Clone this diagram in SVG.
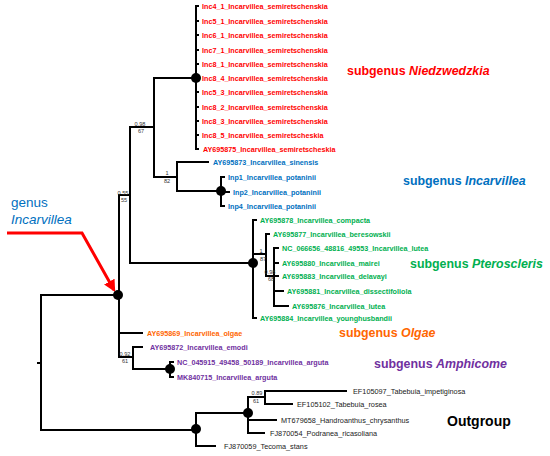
<svg xmlns="http://www.w3.org/2000/svg" width="550" height="456" viewBox="0 0 550 456">
<style>
.br{fill:none;stroke:#000;stroke-width:2}
.nd{fill:#000}
.lf{font-family:"Liberation Sans",Arial,sans-serif;font-size:7.2px;font-weight:bold}
.og{font-family:"Liberation Sans",Arial,sans-serif;font-size:7.3px;fill:#1a1a1a}
.sp{font-family:"Liberation Sans",Arial,sans-serif;font-size:5.6px;fill:#333;text-anchor:middle}
.sg{font-family:"Liberation Sans",Arial,sans-serif;font-size:12.4px;font-weight:bold}
.it{font-style:italic}
.r{fill:#ff0000}.b{fill:#0070c0}.g{fill:#00b050}.o{fill:#ff6600}.p{fill:#7030a0}
</style>
<defs>
<marker id="ah" viewBox="0 0 10 10" refX="8" refY="5" markerWidth="4" markerHeight="4" orient="auto" markerUnits="strokeWidth">
<path d="M0,0L10,5L0,10z" fill="#ff0000"/>
</marker>
</defs>
<rect width="550" height="456" fill="#fff"/>
<g id="connectors">
<path class="br" d="M117,295H41V430H196M37,363H41"/>
<path class="br" d="M130,195H119V357H133M119,333H143"/>
<path class="br" d="M154,127H130V263H253"/>
<path class="br" d="M196,78H154V177H177"/>
<path class="br" d="M199,6H196V149H199M196,21H199M196,35H199M196,50H199M196,64H199M196,92H199M196,107H199M196,121H199M196,135H199"/>
<path class="br" d="M209,162H177V191H221"/>
<path class="br" d="M225,177H221V206H225M221,192H230"/>
<path class="br" d="M257,220H253V318H257M253,254H266"/>
<path class="br" d="M270,234H266V276H274"/>
<path class="br" d="M279,248H274V306H289M274,263H279M274,276H279M274,291H284"/>
<path class="br" d="M143,347H133V369H170"/>
<path class="br" d="M174,362H170V377H174"/>
<path class="br" d="M248,413H196V446H216"/>
<path class="br" d="M265,397H248V433H265M248,420H277"/>
<path class="br" d="M347,391H265V404H293"/>
<path d="M7,233H82L114,290" fill="none" stroke="#ff0000" stroke-width="3" marker-end="url(#ah)"/>
</g>
<g id="internal-nodes">
<circle id="n-genus" class="nd" cx="118" cy="295" r="5"/>
<circle id="n-niedz" class="nd" cx="196" cy="78" r="5"/>
<circle id="n-potaninii" class="nd" cx="221" cy="191" r="5"/>
<circle id="n-ptero" class="nd" cx="253" cy="263" r="5"/>
<circle id="n-arguta" class="nd" cx="170" cy="369" r="5"/>
<circle id="n-out1" class="nd" cx="196" cy="429" r="5"/>
<circle id="n-out2" class="nd" cx="248" cy="413" r="5"/>
</g>
<g id="support">
<text class="sp" x="140" y="126">0.98</text><text class="sp" x="141" y="133">67</text>
<text class="sp" x="167" y="175">1</text><text class="sp" x="167" y="183">82</text>
<text class="sp" x="123" y="195">0.55</text><text class="sp" x="124" y="202">55</text>
<text class="sp" x="261" y="253">1</text><text class="sp" x="263" y="261">87</text>
<text class="sp" x="270" y="274">0.98</text><text class="sp" x="271" y="281">68</text>
<text class="sp" x="125" y="356">0.92</text><text class="sp" x="125" y="363">61</text>
<text class="sp" x="257" y="395">0.89</text><text class="sp" x="256" y="403">61</text>
</g>
<g id="leaves">
<g id="l-inc4"><text class="lf r" x="202" y="8.6">Inc4_1_Incarvillea_semiretschenskia</text></g>
<g id="l-inc5"><text class="lf r" x="202" y="23.6">Inc5_1_Incarvillea_semiretschenskia</text></g>
<g id="l-inc6"><text class="lf r" x="202" y="37.6">Inc6_1_Incarvillea_semiretschenskia</text></g>
<g id="l-inc7"><text class="lf r" x="202" y="52.6">Inc7_1_Incarvillea_semiretschenskia</text></g>
<g id="l-inc81"><text class="lf r" x="202" y="66.6">Inc8_1_Incarvillea_semiretschenskia</text></g>
<g id="l-inc84"><text class="lf r" x="202" y="80.6">Inc8_4_Incarvillea_semiretschenskia</text></g>
<g id="l-inc53"><text class="lf r" x="202" y="94.6">Inc5_3_Incarvillea_semiretschenskia</text></g>
<g id="l-inc82"><text class="lf r" x="202" y="109.6">Inc8_2_Incarvillea_semiretschenskia</text></g>
<g id="l-inc83"><text class="lf r" x="202" y="123.6">Inc8_3_Incarvillea_semiretschenskia</text></g>
<g id="l-inc85"><text class="lf r" x="202" y="137.6">Inc8_5_Incarvillea_semiretscheskia</text></g>
<g id="l-ay875"><text class="lf r" x="203" y="151.6">AY695875_Incarvillea_semiretscheskia</text></g>
<g id="l-ay873"><text class="lf b" x="213" y="164.6">AY695873_Incarvillea_sinensis</text></g>
<g id="l-inp1"><text class="lf b" x="228" y="179.6">Inp1_Incarvillea_potaninii</text></g>
<g id="l-inp2"><text class="lf b" x="233" y="194.6">Inp2_Incarvillea_potaninii</text></g>
<g id="l-inp4"><text class="lf b" x="228" y="208.6">Inp4_Incarvillea_potaninii</text></g>
<g id="l-ay878"><text class="lf g" x="260" y="222.6">AY695878_Incarvillea_compacta</text></g>
<g id="l-ay877"><text class="lf g" x="273" y="236.6">AY695877_Incarvillea_beresowskii</text></g>
<g id="l-nc066"><text class="lf g" x="282" y="250.6">NC_066656_48816_49553_Incarvillea_lutea</text></g>
<g id="l-ay880"><text class="lf g" x="282" y="265.6">AY695880_Incarvillea_mairei</text></g>
<g id="l-ay883"><text class="lf g" x="282" y="278.6">AY695883_Incarvillea_delavayi</text></g>
<g id="l-ay881"><text class="lf g" x="287" y="293.6">AY695881_Incarvillea_dissectifoliola</text></g>
<g id="l-ay876"><text class="lf g" x="292" y="308.6">AY695876_Incarvillea_lutea</text></g>
<g id="l-ay884"><text class="lf g" x="260" y="320.6">AY695884_Incarvillea_younghusbandii</text></g>
<g id="l-ay869"><text class="lf o" x="147" y="335.6">AY695869_Incarvillea_olgae</text></g>
<g id="l-ay872"><text class="lf p" x="150" y="349.6">AY695872_Incarvillea_emodi</text></g>
<g id="l-nc045"><text class="lf p" x="177" y="364.6">NC_045915_49458_50189_Incarvillea_arguta</text></g>
<g id="l-mk840"><text class="lf p" x="177" y="379.6">MK840715_Incarvillea_arguta</text></g>
<g id="l-ef097"><text class="og" x="353" y="393.6">EF105097_Tabebuia_impetiginosa</text></g>
<g id="l-ef102"><text class="og" x="297" y="406.6">EF105102_Tabebuia_rosea</text></g>
<g id="l-mt679"><text class="og" x="281" y="422.6">MT679658_Handroanthus_chrysanthus</text></g>
<g id="l-fj054"><text class="og" x="270" y="435.6">FJ870054_Podranea_ricasoliana</text></g>
<g id="l-fj059"><text class="og" x="224" y="448.6">FJ870059_Tecoma_stans</text></g>
</g>
<g id="clade-labels">
<text class="sg r" x="347" y="75">subgenus</text><text class="sg r it" x="409" y="75">Niedzwedzkia</text>
<text class="sg b" x="403" y="185">subgenus</text><text class="sg b it" x="465" y="185">Incarvillea</text>
<text class="sg g" x="410" y="268">subgenus</text><text class="sg g it" x="472" y="268">Pteroscleris</text>
<text class="sg o" x="339" y="337">subgenus</text><text class="sg o it" x="401" y="337">Olgae</text>
<text class="sg p" x="374" y="368">subgenus</text><text class="sg p it" x="436" y="368">Amphicome</text>
<text x="447" y="426" font-family="Liberation Sans, Arial, sans-serif" font-size="14" font-weight="bold" fill="#000">Outgroup</text>
<text x="11" y="207" font-family="Liberation Sans, Arial, sans-serif" font-size="13.5" fill="#0070c0">genus</text>
<text x="11" y="224" font-family="Liberation Sans, Arial, sans-serif" font-size="13.5" font-style="italic" fill="#0070c0">Incarvillea</text>
</g>
</svg>
